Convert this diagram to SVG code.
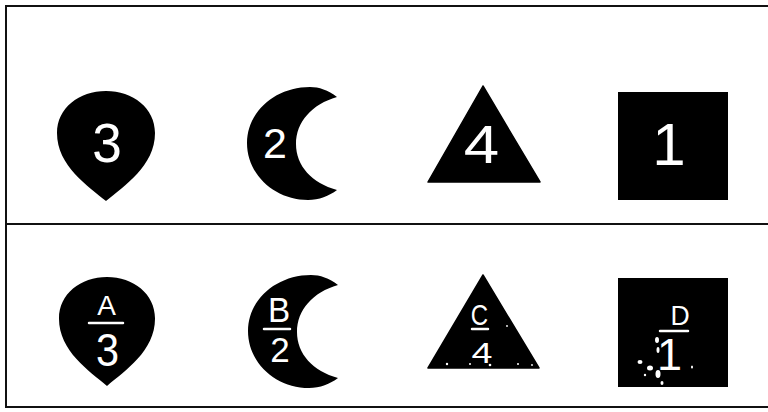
<svg xmlns="http://www.w3.org/2000/svg" width="768" height="412" viewBox="0 0 768 412">
<style>
.frame{fill:none;stroke:#111;stroke-width:2}
.shape{fill:#000}
.lbl{font-family:"Liberation Sans","DejaVu Sans",sans-serif;fill:#fff;text-anchor:middle}
.bar{stroke:#fff;stroke-width:2.5;stroke-linecap:round}
.speck{fill:#fff}
</style>
<defs>
<path id="drop" d="M0,110 C-18,95 -49,75 -49,42 C-49,17 -27,0 0,0 C27,0 49,17 49,42 C49,75 18,95 0,110 Z"/>
<path id="moon" d="M337,97 C328,90 319,87 310,87 C275,87 247,112 247,143 C247,175 275,200 308,200 C319,200 329,196 337,190 C312,183 296,166 296,144 C296,122 312,104 337,97 Z"/>
</defs>
<g id="frame">
<rect class="frame" x="6" y="6" width="780" height="401"/>
<line class="frame" x1="6" y1="224" x2="768" y2="224"/>
</g>
<g id="drop-3">
<use href="#drop" class="shape" transform="translate(106,91)"/>
<text class="lbl" font-size="56" transform="translate(107,162) scale(0.95,1)">3</text>
</g>
<g id="moon-2">
<use href="#moon" class="shape"/>
<text class="lbl" font-size="43" transform="translate(275,158)">2</text>
</g>
<g id="triangle-4">
<polygon class="shape" points="483,86 428,182 540,182" stroke="#000" stroke-width="1.5" stroke-linejoin="round"/>
<text class="lbl" font-size="53" transform="translate(481.5,163) scale(1.2,1)">4</text>
</g>
<g id="square-1">
<rect class="shape" x="618" y="92" width="110" height="108"/>
<text class="lbl" font-size="60" transform="translate(669,165)">1</text>
</g>
<g id="drop-A3">
<use href="#drop" class="shape" transform="translate(107,277) scale(0.98,0.99)"/>
<text class="lbl" font-size="28" transform="translate(106.5,315)">A</text>
<line class="bar" x1="89" y1="323" x2="123" y2="323"/>
<text class="lbl" font-size="46" transform="translate(107.5,366) scale(0.9,1)">3</text>
</g>
<g id="moon-B2">
<use href="#moon" class="shape" transform="translate(1,188)"/>
<text class="lbl" font-size="35" transform="translate(279,322) scale(0.95,1)">B</text>
<line class="bar" x1="264" y1="329" x2="290" y2="329"/>
<text class="lbl" font-size="35" transform="translate(280,362)">2</text>
</g>
<g id="triangle-C4">
<polygon class="shape" points="483,275 428,368 539,368" stroke="#000" stroke-width="1.5" stroke-linejoin="round"/>
<text class="lbl" font-size="30" transform="translate(479.5,325) scale(0.8,1)">C</text>
<line class="bar" x1="472" y1="329" x2="488" y2="329"/>
<text class="lbl" font-size="29" transform="translate(482,363) scale(1.3,1)">4</text>
<g class="speck">
<circle cx="447" cy="364" r="1.2"/><circle cx="470" cy="364" r="1"/><circle cx="490" cy="365" r="1.3"/><circle cx="518" cy="364" r="1"/><circle cx="532" cy="365" r="0.9"/><circle cx="507" cy="326" r="0.9"/>
</g>
</g>
<g id="square-D1">
<rect class="shape" x="618" y="278" width="110" height="109"/>
<text class="lbl" font-size="28" transform="translate(680,325) scale(0.95,1)">D</text>
<line class="bar" x1="660" y1="331" x2="688" y2="331"/>
<text class="lbl" font-size="45" transform="translate(669.5,370)">1</text>
<g class="speck">
<ellipse cx="657" cy="340" rx="2" ry="3"/><ellipse cx="658" cy="350" rx="1.5" ry="3"/><ellipse cx="640" cy="362" rx="2.5" ry="2"/><ellipse cx="650" cy="368" rx="3" ry="2.5"/><ellipse cx="658" cy="374" rx="2.5" ry="4"/><ellipse cx="645" cy="375" rx="1.2" ry="1.2"/><ellipse cx="692" cy="367" rx="1" ry="1.5"/><ellipse cx="662" cy="383" rx="1.5" ry="2"/>
</g>
</g>
</svg>
